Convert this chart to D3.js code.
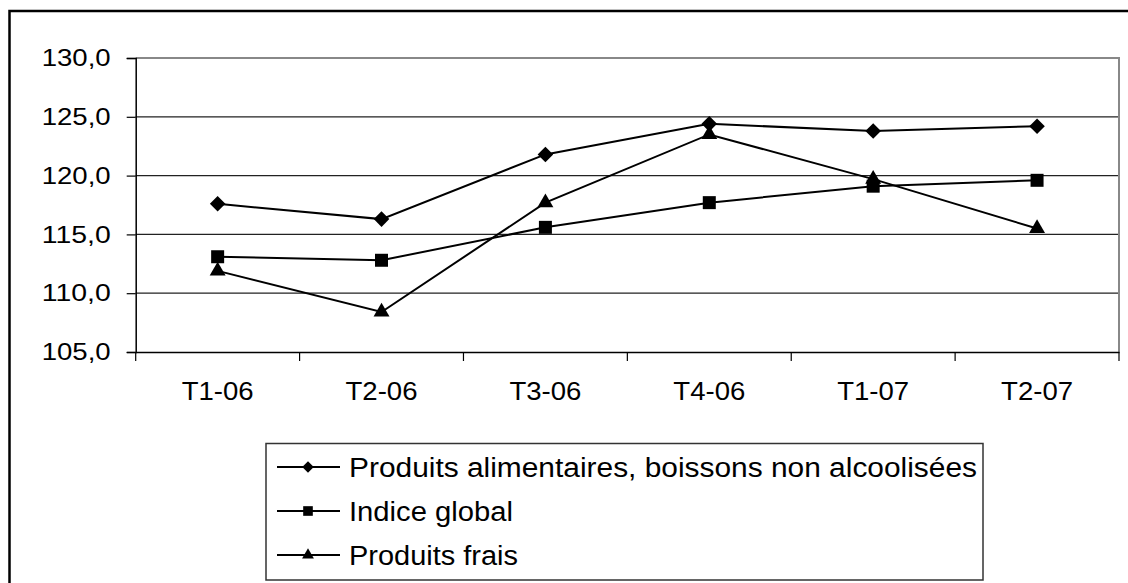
<!DOCTYPE html>
<html>
<head>
<meta charset="utf-8">
<script src="https://cdn.jsdelivr.net/npm/d3@7/dist/d3.min.js"></script>
<style>
  html, body { margin: 0; padding: 0; background: #fff; }
  svg { display: block; font-family: Arial, "Liberation Sans", sans-serif; }
</style>
</head>
<body>
<svg id="chart" width="1128" height="583"></svg>
<script>
// ---- data ----
const categories = ["T1-06", "T2-06", "T3-06", "T4-06", "T1-07", "T2-07"];
const alimentaires = [117.6, 116.3, 121.8, 124.4, 123.8, 124.2];
const indiceGlobal = [113.1, 112.8, 115.6, 117.7, 119.1, 119.6];
const produitsFrais = [111.9, 108.4, 117.7, 123.5, 119.7, 115.5];
const seriesNames = ["Produits alimentaires, boissons non alcoolisées", "Indice global", "Produits frais"];
const yTicks = [105, 110, 115, 120, 125, 130];

const series = [
  { name: seriesNames[0], values: alimentaires, marker: "diamond" },
  { name: seriesNames[1], values: indiceGlobal, marker: "square" },
  { name: seriesNames[2], values: produitsFrais, marker: "triangle" }
];

const svg = d3.select("#chart");

// outer frame
svg.append("rect")
  .attr("x", 9.5).attr("y", 11).attr("width", 1140).attr("height", 600)
  .attr("fill", "none").attr("stroke", "#000").attr("stroke-width", 2.5);

const pLeft = 135.7, pRight = 1119, pTop = 58, pBottom = 352;
const x = d3.scaleBand().domain(categories).range([pLeft, pRight]);
const y = d3.scaleLinear().domain([105, 130]).range([pBottom, pTop]);

// gridlines
svg.append("g").selectAll("line").data(yTicks.filter(t => t !== 105 && t !== 130)).join("line")
  .attr("x1", pLeft).attr("x2", pRight)
  .attr("y1", d => y(d)).attr("y2", d => y(d))
  .attr("stroke", "#222").attr("stroke-width", 1.2);

// plot frame top/right gray
svg.append("path")
  .attr("d", `M${pLeft},${y(130)}H${pRight}V${pBottom}`)
  .attr("fill", "none").attr("stroke", "#888").attr("stroke-width", 2);

// y axis
const yAxis = d3.axisLeft(y).tickValues(yTicks).tickSize(9).tickPadding(16)
  .tickFormat(d => d3.format(".1f")(d).replace(".", ","));
const gy = svg.append("g").attr("transform", `translate(${pLeft},0)`).call(yAxis);
gy.select(".domain").attr("stroke", "#000").attr("stroke-width", 1.5);
gy.selectAll(".tick line").attr("stroke", "#000").attr("stroke-width", 1.2);
gy.selectAll(".tick text")
  .attr("font-size", 24).attr("fill", "#000")
  .attr("font-family", "Arial, 'Liberation Sans', sans-serif")
  .attr("textLength", 69).attr("lengthAdjust", "spacingAndGlyphs");

// x axis
const xAxis = d3.axisBottom(x).tickSize(0).tickPadding(30);
const gx = svg.append("g").attr("transform", `translate(0,${pBottom})`).call(xAxis);
gx.select(".domain").attr("stroke", "#000").attr("stroke-width", 1.5);
gx.selectAll(".tick text")
  .attr("font-size", 26).attr("fill", "#000")
  .attr("font-family", "Arial, 'Liberation Sans', sans-serif")
  .attr("textLength", 72).attr("lengthAdjust", "spacingAndGlyphs");
// category boundary ticks
const bounds = categories.map(c => x(c)).concat([pRight]);
svg.append("g").selectAll("line").data(bounds).join("line")
  .attr("x1", d => d).attr("x2", d => d)
  .attr("y1", pBottom).attr("y2", pBottom + 9)
  .attr("stroke", "#000").attr("stroke-width", 1.2);

function symbolFor(marker, scale) {
  if (marker === "diamond") return d3.symbol().type(d3.symbolSquare).size(121 * scale);
  if (marker === "square") return d3.symbol().type(d3.symbolSquare).size(169 * scale);
  return d3.symbol().type(d3.symbolTriangle).size(110 * scale);
}

const line = d3.line()
  .x((d, i) => x(categories[i]) + x.bandwidth() / 2)
  .y(d => y(d));

series.forEach(s => {
  svg.append("path").datum(s.values)
    .attr("d", line).attr("fill", "none")
    .attr("stroke", "#000").attr("stroke-width", 2);
  svg.append("g").selectAll("path").data(s.values).join("path")
    .attr("d", symbolFor(s.marker, 1)())
    .attr("transform", (d, i) => {
      const cx = x(categories[i]) + x.bandwidth() / 2, cy = y(d);
      return `translate(${cx},${cy})` + (s.marker === "diamond" ? " rotate(45)" : "");
    })
    .attr("fill", "#000");
});

// legend
const lg = svg.append("g");
lg.append("rect").attr("x", 266).attr("y", 443.5).attr("width", 717).attr("height", 136.5)
  .attr("fill", "#fff").attr("stroke", "#333").attr("stroke-width", 1.5);
const rowY = [467, 511, 555];
const textLens = [628, 164, 169];
series.forEach((s, i) => {
  lg.append("line").attr("x1", 277).attr("x2", 340).attr("y1", rowY[i]).attr("y2", rowY[i])
    .attr("stroke", "#000").attr("stroke-width", 2);
  lg.append("path").attr("d", symbolFor(s.marker, 0.55)())
    .attr("transform", `translate(308,${rowY[i]})` + (s.marker === "diamond" ? " rotate(45)" : ""))
    .attr("fill", "#000");
  lg.append("text").attr("x", 349).attr("y", rowY[i]).attr("dy", "0.36em")
    .attr("font-size", 27).attr("fill", "#000")
    .attr("textLength", textLens[i]).attr("lengthAdjust", "spacingAndGlyphs")
    .text(s.name);
});
</script>
</body>
</html>
